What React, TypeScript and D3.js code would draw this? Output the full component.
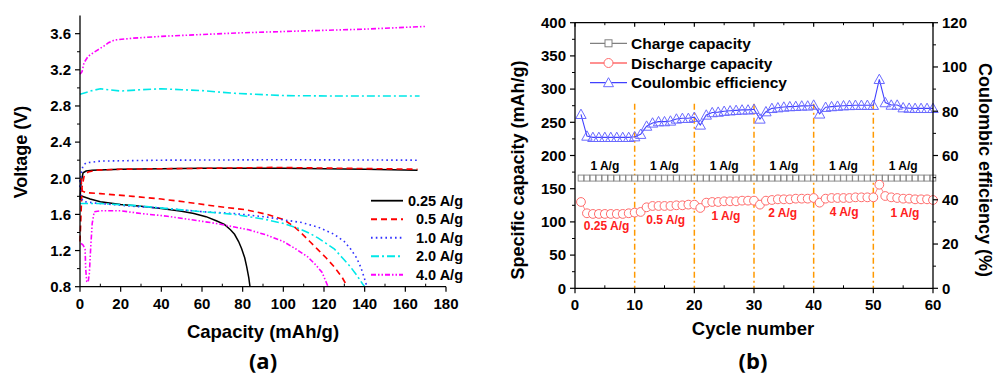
import React from "react";
import * as d3 from "d3";

// ---------- Panel (a) data: [capacity mAh/g, voltage V] ----------
const charge025 = [[0,1.76],[0.5,1.95],[1.5,2.06],[3,2.08],[6,2.09],[20,2.10],[60,2.11],[100,2.11],[140,2.10],[166,2.09]];
const discharge025 = [[0,1.81],[5,1.77],[10,1.74],[20,1.71],[30,1.69],[40,1.665],[50,1.635],[56,1.61],[62,1.575],[67,1.53],[71,1.49],[74,1.43],[76,1.38],[78,1.30],[79.5,1.22],[81,1.12],[82,1.02],[83,0.9],[83.6,0.8]];
const charge05 = [[0,1.30],[0.5,1.6],[1,1.9],[2,2.02],[4,2.07],[8,2.09],[20,2.10],[60,2.11],[95,2.12],[130,2.11],[166,2.10]];
const discharge05 = [[0.5,2.0],[1,1.86],[3,1.84],[10,1.83],[26,1.80],[40,1.77],[51,1.74],[67,1.69],[82,1.65],[92,1.60],[100,1.545],[105,1.47],[109,1.39],[113,1.30],[117,1.21],[121,1.12],[125,1.02],[129,0.9],[131.5,0.8]];
const charge10 = [[0,1.9],[0.5,2.05],[1.5,2.14],[3,2.17],[10,2.19],[40,2.20],[100,2.205],[166,2.20]];
const discharge10 = [[0,1.98],[0.5,1.78],[2,1.74],[10,1.72],[26,1.69],[40,1.67],[60,1.63],[76,1.61],[92,1.57],[100,1.54],[109,1.51],[117,1.46],[125,1.38],[130,1.30],[133,1.22],[136,1.12],[138,1.02],[139.5,0.92],[140.7,0.83],[141,0.8]];
const charge20 = [[0,2.93],[3,2.95],[6,2.97],[10,2.99],[14,2.98],[20,2.965],[30,2.98],[40,2.99],[50,2.98],[60,2.97],[76,2.94],[100,2.915],[125,2.91],[167,2.91]];
const discharge20 = [[0,1.72],[10,1.72],[26,1.70],[50,1.65],[76,1.60],[90,1.55],[100,1.50],[108,1.44],[113,1.39],[117,1.34],[121,1.28],[125,1.22],[129,1.12],[133,1.02],[136,0.93],[139,0.83],[140,0.8]];
const charge40 = [[0,3.15],[1,3.18],[2,3.28],[4,3.35],[8,3.41],[11.6,3.46],[14,3.50],[17,3.53],[26,3.55],[40,3.57],[59,3.59],[80,3.61],[109,3.63],[140,3.65],[170,3.68]];
const discharge40 = [[0.5,1.28],[1.5,1.26],[2.5,1.22],[2.8,1.0],[3.3,0.86],[4,0.85],[4.6,0.95],[5.3,1.25],[6,1.5],[7,1.63],[10,1.64],[20,1.64],[30,1.61],[43,1.58],[55,1.54],[67,1.50],[76,1.46],[83,1.43],[92,1.37],[100,1.30],[106,1.22],[112,1.13],[116,1.04],[119,0.96],[122,0.8]];
const rateLabels = ["0.25 A/g", "0.5 A/g", "1.0 A/g", "2.0 A/g", "4.0 A/g"];
const voltTicks = [0.8, 1.2, 1.6, 2.0, 2.4, 2.8, 3.2, 3.6];
const capTicks = [0, 20, 40, 60, 80, 100, 120, 140, 160, 180];

// ---------- Panel (b) data ----------
const cycles = [1,2,3,4,5,6,7,8,9,10,11,12,13,14,15,16,17,18,19,20,21,22,23,24,25,26,27,28,29,30,31,32,33,34,35,36,37,38,39,40,41,42,43,44,45,46,47,48,49,50,51,52,53,54,55,56,57,58,59,60];
const chargeCap = [166,166,166,166,166,166,166,166,166,166,166,166,166,166,166,166,166,166,166,166,166,166,166,166,166,166,166,166,166,166,166,166,166,166,166,166,166,166,166,166,166,166,166,166,166,166,166,166,166,166,166,166,166,166,166,166,166,166,166,166];
const dischargeCap = [130,113,112,112,112,112,112,112,113,114,115,122,124,124,124,124,125,125,126,126,121,129,130,130,131,131,131,132,132,132,126,132,133,134,134,134,135,135,135,136,129,135,136,136,136,136,137,137,137,137,156,139,137,136,135,135,134,134,134,133];
const coulombic = [78.6,68.8,68.2,68.2,68.2,68.2,68.2,68.2,68.2,68.5,69.6,73.3,74.7,75.3,75.3,75.6,76.5,76.8,76.8,77.3,73.8,78.3,79.4,79.6,80,80.2,80.4,80.6,80.6,80.9,76.5,79.8,81.3,81.6,81.9,82.1,82.2,82.4,82.4,82.8,78.8,81.8,82.1,82.3,82.5,82.6,82.7,82.7,82.7,82.7,94.4,83.9,82.8,82.8,81.6,81.4,81.3,81.3,81.3,81.3];
const dividerCycles = [10, 20, 30, 40, 50];
const dividerTop = 278;
const topLabels = ["1 A/g", "1 A/g", "1 A/g", "1 A/g", "1 A/g", "1 A/g"];
const topLabelCycles = [5, 15, 25, 35, 45, 55];
const topLabelValue = 184;
const rateText = ["0.25 A/g", "0.5 A/g", "1 A/g", "2 A/g", "4 A/g", "1 A/g"];
const rateTextCycles = [5.3, 15.2, 25.3, 34.8, 45.1, 55.3];
const rateTextValues = [95, 104, 110, 114, 115.5, 114];
const capTicksB = [0, 50, 100, 150, 200, 250, 300, 350, 400];
const ceTicks = [0, 20, 40, 60, 80, 100, 120];
const cycleTicks = [0, 10, 20, 30, 40, 50, 60];
const legendB = ["Charge capacity", "Discharge capacity", "Coulombic efficiency"];

const FONT = "'Liberation Sans', Arial, sans-serif";

export default function App() {
  // Panel (a) scales
  const xa = d3.scaleLinear().domain([0, 180]).range([80, 446]);
  const ya = d3.scaleLinear().domain([0.8, 3.8]).range([286.7, 15.6]);
  const la = d3.line<number[]>().x(d => xa(d[0])).y(d => ya(d[1]));
  const seriesA = [
    { c: charge025, d: discharge025, color: "#000000", dash: null, w: 1.5 },
    { c: charge05, d: discharge05, color: "#ff0000", dash: "6,4", w: 1.6 },
    { c: charge10, d: discharge10, color: "#3030ff", dash: "1.6,3.2", w: 1.6 },
    { c: charge20, d: discharge20, color: "#00e8e8", dash: "8,3,2,3", w: 1.6 },
    { c: charge40, d: discharge40, color: "#ff00ff", dash: "5,2,1.5,2,1.5,2", w: 1.6 },
  ];
  const minorVolt = d3.range(1.0, 3.8, 0.4);
  const minorCap = d3.range(10, 180, 20);

  // Panel (b) scales
  const xb = d3.scaleLinear().domain([0, 60]).range([575, 933]);
  const yb = d3.scaleLinear().domain([0, 400]).range([288.3, 22.7]);
  const yb2 = d3.scaleLinear().domain([0, 120]).range([288.3, 22.7]);
  const lineCharge = d3.line<number>().x((_, i) => xb(cycles[i])).y(v => yb(v));
  const lineCE = d3.line<number>().x((_, i) => xb(cycles[i])).y(v => yb2(v));
  const minorCapB = d3.range(25, 400, 50);
  const minorCE = d3.range(10, 120, 20);
  const minorCycle = d3.range(5, 60, 10);

  const tri = (x: number, y: number, s = 5.2) =>
    `M${x},${y - s}L${x + s},${y + s * 0.8}L${x - s},${y + s * 0.8}Z`;

  return (
    <svg width={995} height={380} style={{ position: "absolute", left: 0, top: 0, background: "#fff" }} fontFamily={FONT}>
      <rect width={995} height={380} fill="#fff" />
      {/* ================= Panel (a) ================= */}
      <g>
        {seriesA.map((s, i) => (
          <g key={i} fill="none" stroke={s.color} strokeWidth={s.w} strokeDasharray={s.dash || undefined}>
            <path d={la(s.c) || ""} />
            <path d={la(s.d) || ""} />
          </g>
        ))}
        {/* axes */}
        <line x1={80} x2={80} y1={ya(3.8)} y2={ya(0.8)} stroke="#000" strokeWidth={1.3} />
        <line x1={80} x2={446} y1={ya(0.8)} y2={ya(0.8)} stroke="#000" strokeWidth={1.3} />
        {voltTicks.map(t => (
          <g key={t}>
            <line x1={75} x2={80} y1={ya(t)} y2={ya(t)} stroke="#000" strokeWidth={1.2} />
            <text x={71} y={ya(t) + 5.3} textAnchor="end" fontSize={15} fontWeight="bold">{t.toFixed(1)}</text>
          </g>
        ))}
        {minorVolt.map(t => (
          <line key={t} x1={77} x2={80} y1={ya(t)} y2={ya(t)} stroke="#000" strokeWidth={1} />
        ))}
        {capTicks.map(t => (
          <g key={t}>
            <line x1={xa(t)} x2={xa(t)} y1={ya(0.8)} y2={ya(0.8) + 5} stroke="#000" strokeWidth={1.2} />
            <text x={xa(t)} y={308.5} textAnchor="middle" fontSize={15} fontWeight="bold">{t}</text>
          </g>
        ))}
        {minorCap.map(t => (
          <line key={t} x1={xa(t)} x2={xa(t)} y1={ya(0.8)} y2={ya(0.8) - 3} stroke="#000" strokeWidth={1} />
        ))}
        <text transform="translate(27,152) rotate(-90)" textAnchor="middle" fontSize={18} fontWeight="bold">Voltage (V)</text>
        <text x={263} y={338} textAnchor="middle" fontSize={18.5} fontWeight="bold">Capacity (mAh/g)</text>
        <text x={263} y={369} textAnchor="middle" fontSize={22} fontWeight="bold" fontFamily="'Open Sans', sans-serif">(a)</text>
        {/* legend */}
        {seriesA.map((s, i) => {
          const y = 200.7 + i * 18.5;
          return (
            <g key={i}>
              <line x1={371} x2={403} y1={y} y2={y} stroke={s.color} strokeWidth={s.w + 0.3} strokeDasharray={s.dash || undefined} />
              <text x={463} y={y + 5.2} textAnchor="end" fontSize={14.5} fontWeight="bold">{rateLabels[i]}</text>
            </g>
          );
        })}
      </g>

      {/* ================= Panel (b) ================= */}
      <g>
        {/* dividers */}
        {dividerCycles.map(c => (
          <line key={c} x1={xb(c)} x2={xb(c)} y1={yb(dividerTop)} y2={yb(0)} stroke="#ff9900" strokeWidth={1.5} strokeDasharray="6,3,2,3" />
        ))}
        {/* charge capacity */}
        <path d={lineCharge(chargeCap) || ""} fill="none" stroke="#808080" strokeWidth={1} />
        {chargeCap.map((v, i) => (
          <rect key={i} x={xb(cycles[i]) - 2.8} y={yb(v) - 3} width={5.6} height={6} fill="#fff" stroke="#808080" strokeWidth={0.9} />
        ))}
        {/* discharge */}
        <path d={lineCharge(dischargeCap) || ""} fill="none" stroke="#ff6b6b" strokeWidth={0.8} />
        {dischargeCap.map((v, i) => (
          <circle key={i} cx={xb(cycles[i])} cy={yb(v)} r={4.4} fill="#fff" stroke="#ff6b6b" strokeWidth={1} />
        ))}
        {/* coulombic efficiency */}
        <path d={lineCE(coulombic) || ""} fill="none" stroke="#4040ff" strokeWidth={1.1} />
        {coulombic.map((v, i) => (
          <path key={i} d={tri(xb(cycles[i]), yb2(v))} fill="none" stroke="#6a6aff" strokeWidth={1} />
        ))}
        {/* labels */}
        {topLabels.map((t, i) => (
          <text key={i} x={xb(topLabelCycles[i])} y={yb(topLabelValue) + 4.3} textAnchor="middle" fontSize={12} fontWeight="bold">{t}</text>
        ))}
        {rateText.map((t, i) => (
          <text key={i} x={xb(rateTextCycles[i])} y={yb(rateTextValues[i]) + 4.3} textAnchor="middle" fontSize={12} fontWeight="bold" fill="#ff2020">{t}</text>
        ))}
        {/* axes */}
        <line x1={575} x2={575} y1={yb(400)} y2={yb(0)} stroke="#000" strokeWidth={1.3} />
        <line x1={933} x2={933} y1={yb(400)} y2={yb(0)} stroke="#000" strokeWidth={1.3} />
        <line x1={575} x2={933} y1={yb(0)} y2={yb(0)} stroke="#000" strokeWidth={1.3} />
        <line x1={575} x2={933} y1={yb(400)} y2={yb(400)} stroke="#000" strokeWidth={1.3} />
        {capTicksB.map(t => (
          <g key={t}>
            <line x1={570} x2={575} y1={yb(t)} y2={yb(t)} stroke="#000" strokeWidth={1.2} />
            <text x={566} y={yb(t) + 5.3} textAnchor="end" fontSize={15} fontWeight="bold">{t}</text>
          </g>
        ))}
        {minorCapB.map(t => (
          <line key={t} x1={572} x2={575} y1={yb(t)} y2={yb(t)} stroke="#000" strokeWidth={1} />
        ))}
        {ceTicks.map(t => (
          <g key={t}>
            <line x1={933} x2={938} y1={yb2(t)} y2={yb2(t)} stroke="#000" strokeWidth={1.2} />
            <text x={942} y={yb2(t) + 5.3} textAnchor="start" fontSize={15} fontWeight="bold">{t}</text>
          </g>
        ))}
        {minorCE.map(t => (
          <line key={t} x1={933} x2={936} y1={yb2(t)} y2={yb2(t)} stroke="#000" strokeWidth={1} />
        ))}
        {cycleTicks.map(t => (
          <g key={t}>
            <line x1={xb(t)} x2={xb(t)} y1={yb(0)} y2={yb(0) + 5} stroke="#000" strokeWidth={1.2} />
            <line x1={xb(t)} x2={xb(t)} y1={yb(400)} y2={yb(400) + 4} stroke="#000" strokeWidth={1.2} />
            <text x={xb(t)} y={310} textAnchor="middle" fontSize={15} fontWeight="bold">{t}</text>
          </g>
        ))}
        {minorCycle.map(t => (
          <g key={t}>
            <line x1={xb(t)} x2={xb(t)} y1={yb(0)} y2={yb(0) - 3} stroke="#000" strokeWidth={1} />
            <line x1={xb(t)} x2={xb(t)} y1={yb(400)} y2={yb(400) + 2.5} stroke="#000" strokeWidth={1} />
          </g>
        ))}
        <text transform="translate(524,170) rotate(-90)" textAnchor="middle" fontSize={18} fontWeight="bold">Specific capacity (mAh/g)</text>
        <text transform="translate(979,170) rotate(90)" textAnchor="middle" fontSize={18} fontWeight="bold">Coulombic efficiency (%)</text>
        <text x={753} y={335} textAnchor="middle" fontSize={18.5} fontWeight="bold">Cycle number</text>
        <text x={753} y={369} textAnchor="middle" fontSize={22} fontWeight="bold" fontFamily="'Open Sans', sans-serif">(b)</text>
        {/* legend */}
        {legendB.map((t, i) => {
          const y = 43.3 + i * 19.7;
          const cx = 608.5;
          const col = ["#808080", "#ff6b6b", "#4040ff"][i];
          return (
            <g key={i}>
              <line x1={590} x2={627} y1={y} y2={y} stroke={col} strokeWidth={1.3} />
              {i === 0 && <rect x={cx - 3.5} y={y - 3.5} width={7} height={7} fill="#fff" stroke="#808080" strokeWidth={1} />}
              {i === 1 && <circle cx={cx} cy={y} r={4.5} fill="#fff" stroke="#ff6b6b" strokeWidth={1} />}
              {i === 2 && <path d={tri(cx, y, 5)} fill="#fff" stroke="#6a6aff" strokeWidth={1} />}
              <text x={631} y={y + 5.5} fontSize={15.5} fontWeight="bold">{t}</text>
            </g>
          );
        })}
      </g>
    </svg>
  );
}
